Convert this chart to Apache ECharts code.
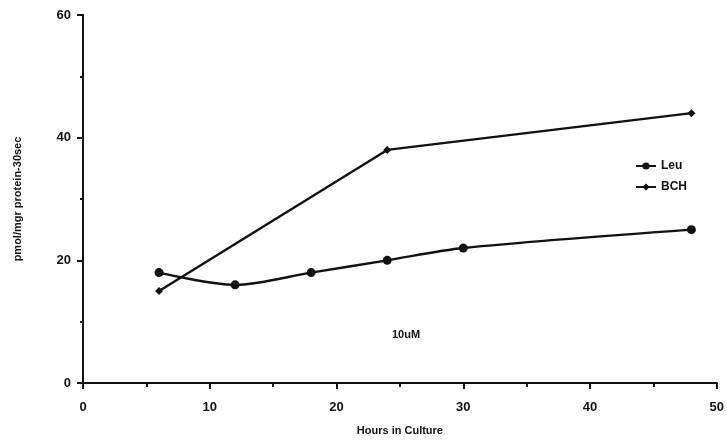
<!DOCTYPE html>
<html><head><meta charset="utf-8">
<script src="https://cdn.jsdelivr.net/npm/echarts@6/dist/echarts.min.js"></script>
<style>html,body{margin:0;padding:0;background:#fff}#c{width:727px;height:441px}</style>
</head><body><div id="c"></div>
<script>
const leuHours = [6, 12, 18, 24, 30, 48];
const leuValues = [18, 16, 18, 20, 22, 25];
const bchHours = [6, 24, 48];
const bchValues = [15, 38, 44];
const xTicks = [0, 10, 20, 30, 40, 50];
const yTicks = [0, 20, 40, 60];

const font = 'Liberation Sans';
const chart = echarts.init(document.getElementById('c'));
chart.setOption({
  backgroundColor: '#fff',
  animation: false,
  grid: {left: 83, right: 8, top: 15, bottom: 57},
  legend: {
    orient: 'vertical', left: 630, top: 155, itemGap: 9,
    itemWidth: 20, itemHeight: 9,
    textStyle: {fontFamily: font, fontWeight: 'bold', fontSize: 12, color: '#111'},
    data: ['Leu', 'BCH']
  },
  xAxis: {
    type: 'value', min: 0, max: 50, interval: 10,
    name: 'Hours in Culture', nameLocation: 'middle', nameGap: 42,
    nameTextStyle: {fontFamily: font, fontWeight: 'bold', fontSize: 11, color: '#111'},
    axisLine: {lineStyle: {color: '#111', width: 2}},
    axisTick: {length: 6, lineStyle: {color: '#111', width: 2}},
    minorTick: {show: true, splitNumber: 2, length: 4, lineStyle: {color: '#111', width: 2}},
    splitLine: {show: false},
    axisLabel: {fontFamily: font, fontWeight: 'bold', fontSize: 13, color: '#111', margin: 18,
      formatter: v => xTicks.includes(v) ? String(v) : ''}
  },
  yAxis: {
    type: 'value', min: 0, max: 60, interval: 20,
    name: 'pmol/mgr protein-30sec', nameLocation: 'middle', nameGap: 60,
    nameTextStyle: {fontFamily: font, fontWeight: 'bold', fontSize: 11, color: '#111'},
    axisLine: {lineStyle: {color: '#111', width: 2}},
    axisTick: {length: 6, lineStyle: {color: '#111', width: 2}},
    minorTick: {show: true, splitNumber: 2, length: 3, lineStyle: {color: '#111', width: 2}},
    splitLine: {show: false},
    axisLabel: {fontFamily: font, fontWeight: 'bold', fontSize: 13, color: '#111', margin: 12,
      formatter: v => yTicks.includes(v) ? String(v) : ''}
  },
  graphic: [{
    type: 'text', left: 392, top: 329,
    style: {text: '10uM', font: 'bold 11px "Liberation Sans"', fill: '#111'}
  }],
  series: [
    {
      name: 'Leu', type: 'line', smooth: 0.3,
      data: leuHours.map((h, i) => [h, leuValues[i]]),
      symbol: 'circle', symbolSize: 9,
      lineStyle: {color: '#111', width: 2.4},
      itemStyle: {color: '#111'}
    },
    {
      name: 'BCH', type: 'line',
      data: bchHours.map((h, i) => [h, bchValues[i]]),
      symbol: 'diamond', symbolSize: 8,
      lineStyle: {color: '#111', width: 2.4},
      itemStyle: {color: '#111'}
    }
  ]
});
</script></body></html>
